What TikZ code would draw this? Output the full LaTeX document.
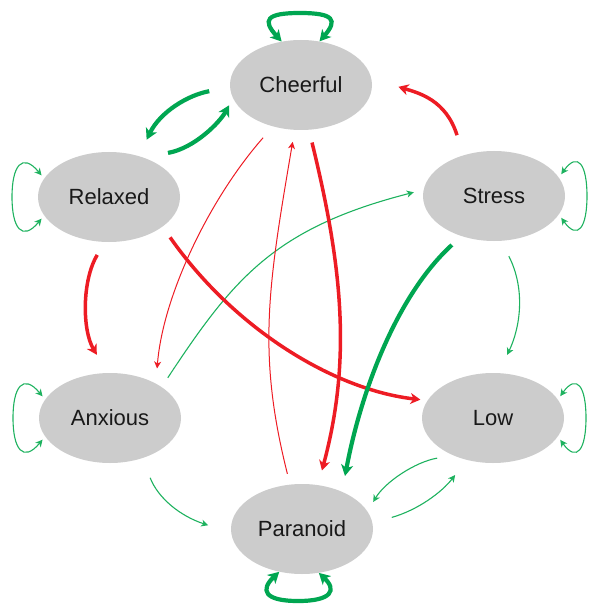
\documentclass[tikz,border=0pt]{standalone}
\usepackage{fontspec}
\setmainfont{Liberation Sans}
\usetikzlibrary{arrows.meta,shapes.geometric}
\definecolor{nodegray}{RGB}{204,204,204}
\definecolor{grn}{RGB}{0,166,81}
\definecolor{lgrn}{RGB}{30,178,95}
\definecolor{rd}{RGB}{237,28,36}
\tikzset{
  bigtip/.tip={Stealth[length=11pt,width=12pt,inset=3pt]},
  midtip/.tip={Stealth[length=10pt,width=11pt,inset=3pt]},
  smalltip/.tip={Stealth[length=7pt,width=7pt,inset=2pt]},
}
\begin{document}
\begin{tikzpicture}[x=1pt,y=-1pt,
  state/.style={ellipse, fill=nodegray, minimum width=142pt, minimum height=90pt,
    inner sep=0pt, font=\fontsize{22}{26}\selectfont, text=black!90},
  gthick/.style={draw=grn, line width=4.2pt, -bigtip},
  rthick/.style={draw=rd, line width=3.5pt, -midtip},
  gthin/.style={draw=lgrn, line width=1.1pt, -smalltip},
  rthin/.style={draw=rd, line width=1pt, -smalltip},
  thinloop/.style={gthin, smalltip-smalltip, shorten <=4pt, shorten >=4pt},
]
\useasboundingbox (0,0) rectangle (588,604);

\node[state] (C) at (301,85) {Cheerful};
\node[state] (R) at (109,197) {Relaxed};
\node[state] (S) at (494,196) {Stress};
\node[state] (A) at (110,418) {Anxious};
\node[state] (L) at (493,418) {Low};
\node[state] (P) at (302,529) {Paranoid};

% self loops
\draw[gthick, bigtip-bigtip] (C.114) .. controls (262,20) and (266,13) .. (300,13)
   .. controls (334,13) and (338,20) .. (C.67);
\draw[gthick, bigtip-bigtip] (P.242) .. controls (260,590) and (264,601) .. (298,601)
   .. controls (332,601) and (337,590) .. (P.291);
\draw[thinloop] (R.164) .. controls (22,152) and (12,166) .. (12,197)
   .. controls (12,228) and (22,242) .. (R.196);
\draw[thinloop] (A.164) .. controls (23,373) and (13,387) .. (13,418)
   .. controls (13,449) and (23,463) .. (A.196);
\draw[thinloop] (S.16) .. controls (578,151) and (587,165) .. (587,196)
   .. controls (587,227) and (578,241) .. (S.344);
\draw[thinloop] (L.16) .. controls (577,373) and (586,387) .. (586,418)
   .. controls (586,449) and (577,463) .. (L.344);

% Cheerful <-> Relaxed
\draw[gthick, shorten <=21pt, shorten >=18pt] (C.182) .. controls (188,95) and (160,112) .. (R.54);
\draw[gthick, shorten <=25pt, shorten >=8pt] (R.49) .. controls (195,148) and (220,122) .. (C.191);

% Relaxed -> Anxious
\draw[rthick, shorten <=15pt, shorten >=21pt] (R.265) .. controls (82,280) and (82,330) .. (A.93);
% Cheerful -> Anxious
\draw[rthin, shorten <=15pt, shorten >=15pt] (C.236) .. controls (210,198) and (163,295) .. (A.37);
% Anxious -> Stress
\draw[gthin, shorten <=11pt, shorten >=10pt] (A.31) .. controls (233,279) and (274,228) .. (S.175);
% Relaxed -> Low
\draw[rthick, shorten <=13pt, shorten >=7pt] (R.331) .. controls (235,330) and (335,390) .. (L.165);
% Paranoid -> Cheerful
\draw[rthin, shorten <=11pt, shorten >=12pt] (P.105) .. controls (257,353) and (268,287) .. (C.262);
% Cheerful -> Paranoid
\draw[rthick, shorten <=13pt, shorten >=15pt] (C.280) .. controls (342,265) and (352,359) .. (P.70);
% Stress -> Paranoid
\draw[gthick, shorten <=13pt, shorten >=16pt] (S.231) .. controls (397,295) and (361,391) .. (P.43);
% Stress -> Cheerful
\draw[rthick, shorten <=21pt, shorten >=28pt] (S.127) .. controls (446,100) and (419,93) .. (C.5);
% Stress -> Low
\draw[gthin, shorten <=17pt, shorten >=20pt] (S.279) .. controls (526,290) and (520,328) .. (L.83);
% Anxious -> Paranoid
\draw[gthin, shorten <=21pt, shorten >=24pt] (A.309) .. controls (158,498) and (180,516) .. (P.183);
% Low <-> Paranoid
\draw[gthin, shorten <=16pt, shorten >=11pt] (L.223) .. controls (415,462) and (385,482) .. (P.15);
\draw[gthin, shorten <=20pt, shorten >=19pt] (P.5) .. controls (418,510) and (442,492) .. (L.238);
\end{tikzpicture}
\end{document}
